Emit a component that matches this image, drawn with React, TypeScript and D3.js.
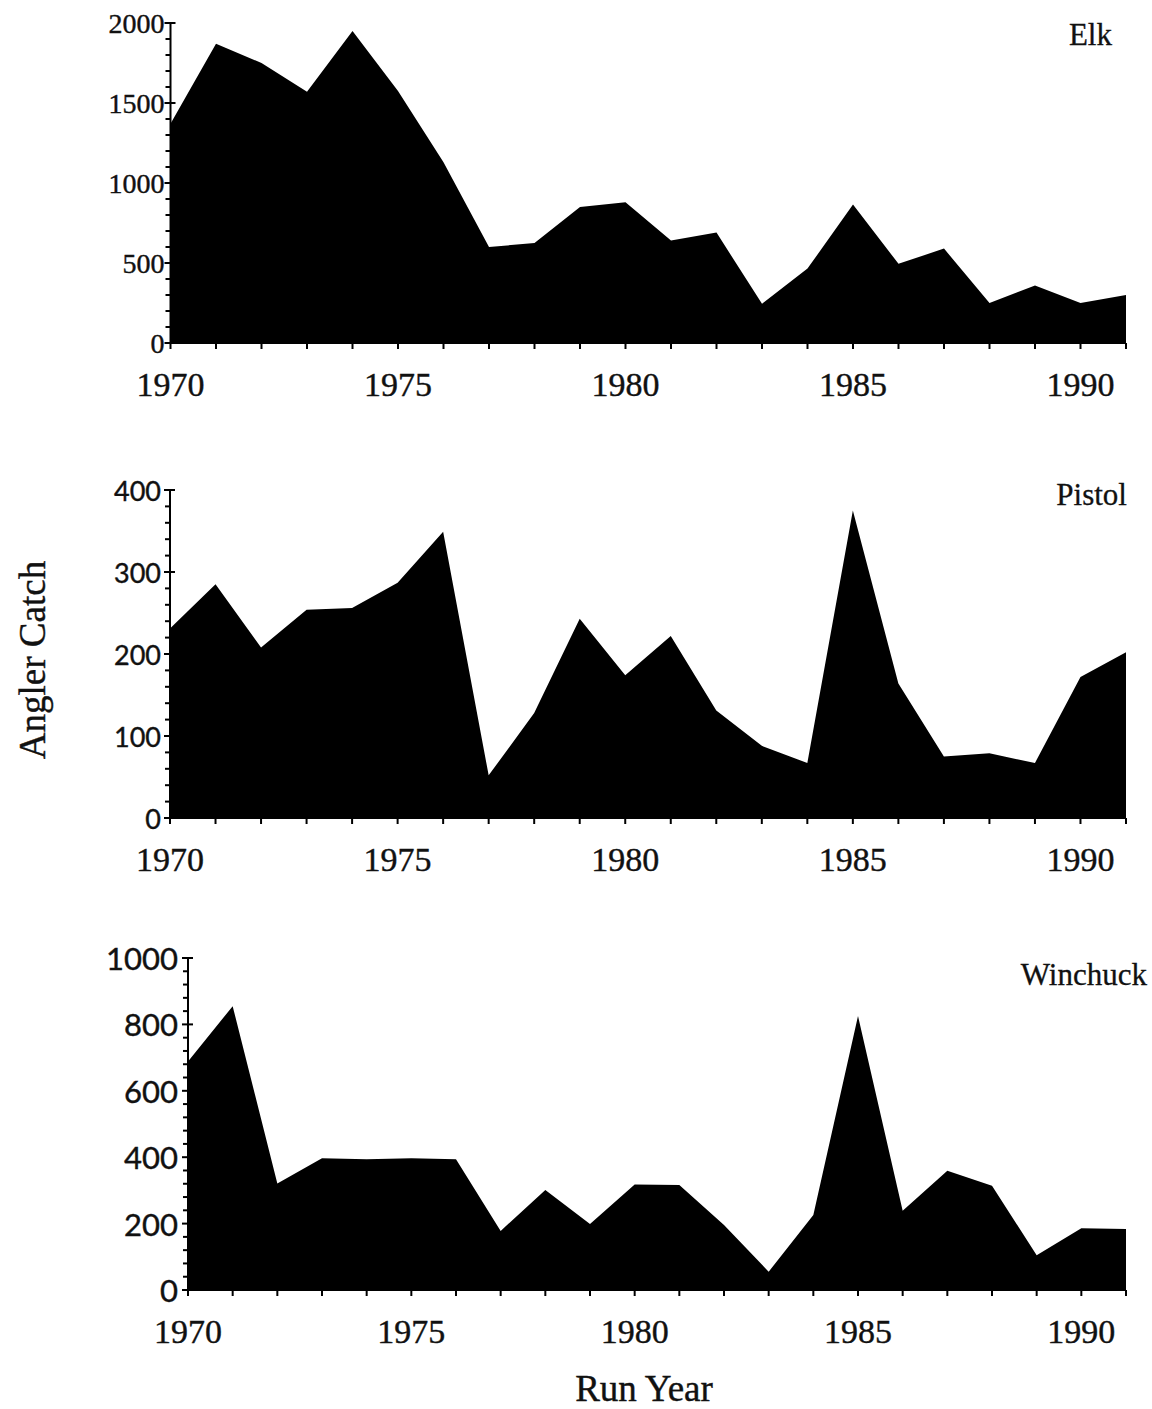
import React from "react";
import * as d3 from "d3";

const years = [1970, 1971, 1972, 1973, 1974, 1975, 1976, 1977, 1978, 1979, 1980, 1981, 1982, 1983, 1984, 1985, 1986, 1987, 1988, 1989, 1990, 1991];
const elkCatch = [1370, 1870, 1750, 1570, 1950, 1575, 1130, 600, 625, 850, 880, 640, 690, 245, 465, 865, 495, 590, 250, 360, 250, 300];
const pistolCatch = [231, 285, 208, 254, 256, 287, 349, 52, 128, 243, 174, 222, 131, 88, 67, 375, 164, 75, 79, 67, 172, 202];
const winchuckCatch = [688, 855, 321, 397, 394, 397, 394, 178, 301, 199, 318, 316, 196, 55, 226, 825, 239, 359, 314, 105, 186, 184];

const xTickLabels = [1970, 1975, 1980, 1985, 1990];
const elkTicks = [0, 500, 1000, 1500, 2000];
const pistolTicks = [0, 100, 200, 300, 400];
const winchuckTicks = [0, 200, 400, 600, 800, 1000];

const SERIF = "'Liberation Serif', 'Times New Roman', serif";
const SANS = "Lato, 'Open Sans', sans-serif";
const INK = "#111";

type PanelProps = {
  name: string;
  values: number[];
  ticks: number[];
  minorStep: number;
  left: number;
  right: number;
  top: number;
  bottom: number;
  yFont: string;
  yFontSize: number;
  yLabelGap: number;
  labelX: number;
  labelY: number;
};

function Panel(p: PanelProps) {
  const yMax = p.ticks[p.ticks.length - 1];
  const x = d3.scaleLinear().domain([years[0], years[years.length - 1]]).range([p.left, p.right]);
  const y = d3.scaleLinear().domain([0, yMax]).range([p.bottom, p.top]);
  const area = d3
    .area<number>()
    .x((_, i) => x(years[i]))
    .y0(y(0))
    .y1((d) => y(d));
  const minors = d3.range(0, yMax + 0.001, p.minorStep).filter((v) => !p.ticks.includes(v));
  return (
    <g>
      <path d={area(p.values) || ""} fill="#000" />
      <line x1={p.left} x2={p.left} y1={p.top} y2={p.bottom} stroke="#000" strokeWidth={2} />
      {p.ticks.map((t) => (
        <g key={"t" + t}>
          <line x1={p.left - 6} x2={p.left + 5} y1={y(t)} y2={y(t)} stroke="#000" strokeWidth={2} />
          <text
            x={p.left - p.yLabelGap}
            y={y(t)}
            textAnchor="end"
            dominantBaseline="central"
            fontFamily={p.yFont}
            fontSize={p.yFontSize}
            fill={INK}
            stroke={INK}
            strokeWidth={0.4}
          >
            {t}
          </text>
        </g>
      ))}
      {minors.map((m) => (
        <line key={"m" + m} x1={p.left - 5} x2={p.left} y1={y(m)} y2={y(m)} stroke="#000" strokeWidth={2} />
      ))}
      <line x1={p.left} x2={p.right} y1={p.bottom} y2={p.bottom} stroke="#000" strokeWidth={2} />
      {years.map((yr) => (
        <line key={"x" + yr} x1={x(yr)} x2={x(yr)} y1={p.bottom} y2={p.bottom + 6} stroke="#000" strokeWidth={2} />
      ))}
      {xTickLabels.map((yr) => (
        <text
          key={"xl" + yr}
          x={x(yr)}
          y={p.bottom + 53}
          textAnchor="middle"
          fontFamily={SERIF}
          fontSize={34}
          fill={INK}
          stroke={INK}
          strokeWidth={0.4}
        >
          {yr}
        </text>
      ))}
      <text x={p.labelX} y={p.labelY} textAnchor="end" fontFamily={SERIF} fontSize={31} fill={INK} stroke={INK} strokeWidth={0.3}>
        {p.name}
      </text>
    </g>
  );
}

export default function App() {
  return (
    <svg width={1152} height={1409} style={{ position: "absolute", left: 0, top: 0, background: "#fff" }}>
      <rect x={0} y={0} width={1152} height={1409} fill="#fff" />
      <Panel
        name="Elk"
        values={elkCatch}
        ticks={elkTicks}
        minorStep={100}
        left={170.5}
        right={1126}
        top={23}
        bottom={343}
        yFont={SERIF}
        yFontSize={28}
        yLabelGap={6}
        labelX={1112}
        labelY={45}
      />
      <Panel
        name="Pistol"
        values={pistolCatch}
        ticks={pistolTicks}
        minorStep={20}
        left={170}
        right={1126}
        top={490}
        bottom={818}
        yFont={SANS}
        yFontSize={27}
        yLabelGap={9}
        labelX={1127}
        labelY={505}
      />
      <Panel
        name="Winchuck"
        values={winchuckCatch}
        ticks={winchuckTicks}
        minorStep={40}
        left={188}
        right={1126}
        top={958}
        bottom={1290}
        yFont={SANS}
        yFontSize={31}
        yLabelGap={10}
        labelX={1147}
        labelY={985}
      />
      <text
        transform="translate(45,660) rotate(-90)"
        textAnchor="middle"
        fontFamily={SERIF}
        fontSize={37}
        fill={INK}
        stroke={INK}
        strokeWidth={0.4}
      >
        Angler Catch
      </text>
      <text x={644} y={1401} textAnchor="middle" fontFamily={SERIF} fontSize={37} fill={INK} stroke={INK} strokeWidth={0.4}>
        Run Year
      </text>
    </svg>
  );
}
